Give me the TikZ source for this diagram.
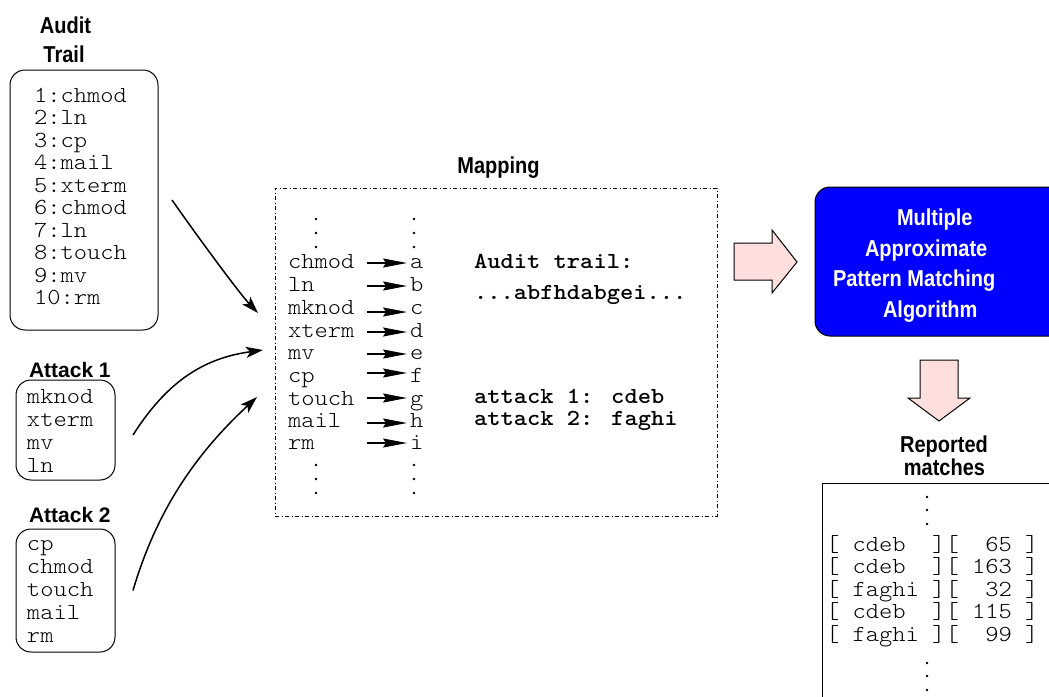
\documentclass[tikz,border=0pt]{standalone}
\usepackage{fontspec}
\newfontfamily\cour[Extension=.otf, FakeStretch=1.1, BoldFont=lmmonolt10-bold]{lmmonolt10-regular}
\newfontfamily\hvn[FakeStretch=0.87]{Liberation Sans}
\newfontfamily\hvw{Liberation Sans}
\usetikzlibrary{arrows.meta}
\definecolor{pinkfill}{RGB}{255,222,222}
\definecolor{algblue}{RGB}{0,0,255}
\begin{document}
\begin{tikzpicture}[x=1pt,y=-1pt,
  every node/.style={inner sep=0pt,outer sep=0pt},
  mono/.style={font=\cour\fontsize{23}{26}\selectfont, anchor=base west},
  monob/.style={font=\cour\bfseries\fontsize{23}{26}\selectfont, anchor=base west},
  titletext/.style={font=\hvn\bfseries\fontsize{23}{27}\selectfont, anchor=base},
  attacktitle/.style={font=\hvw\bfseries\fontsize{21}{25}\selectfont, anchor=base west},
  whitetext/.style={font=\hvn\bfseries\fontsize{23}{27}\selectfont, text=white, anchor=base west},
  vdot/.style={circle, fill=black, minimum size=2.6pt},
  roundbox/.style={draw, line width=1pt, rounded corners=15pt},
  curvearrow/.style={line width=1.5pt, -{Stealth[length=17pt,width=11pt,inset=4pt]}},
  maparrow/.style={line width=1.4pt, -{Stealth[length=24pt,width=9pt,inset=3pt]}},
  bigarrow/.style={draw, line width=1pt, fill=pinkfill, line join=miter},
]
\useasboundingbox (0,0) rectangle (1049,696);
\begin{scope}
\clip (0,0) rectangle (1049,696);

% ---------- Audit trail ----------
\node[titletext] (audittitleA) at (65.5,33) {Audit};
\node[titletext] (audittitleB) at (64,62) {Trail};
\node[roundbox, minimum width=148pt, minimum height=260pt] (auditbox) at (84,200) {};
\foreach \t [count=\i] in {1:chmod,2:ln,3:cp,4:mail,5:xterm,6:chmod,7:ln,8:touch,9:mv,10:rm}
  \node[mono] (au\i) at (34,{102+(\i-1)*22.55}) {\t};

% ---------- Attack 1 ----------
\node[attacktitle] (att1title) at (29,377) {Attack 1};
\node[roundbox, minimum width=99pt, minimum height=100pt] (att1box) at (65.5,430) {};
\foreach \t/\yb [count=\i] in {mknod/403,xterm/426,mv/449,ln/472}
  \node[mono] (aa\i) at (27,\yb) {\t};

% ---------- Attack 2 ----------
\node[attacktitle] (att2title) at (29,522) {Attack 2};
\node[roundbox, minimum width=99pt, minimum height=123pt] (att2box) at (65.5,590.5) {};
\foreach \t/\yb [count=\i] in {cp/550,chmod/573,touch/596,mail/619,rm/642}
  \node[mono] (ab\i) at (27,\yb) {\t};

% ---------- Mapping ----------
\node[titletext] (maptitle) at (498.5,173) {Mapping};
\node[draw, line width=0.8pt, dash pattern=on 4pt off 2.5pt on 1pt off 2.5pt,
      minimum width=442pt, minimum height=328pt] (mapbox) at (496,352) {};
\foreach \w/\l/\yb/\dy [count=\i] in {chmod/a/268/-5, ln/b/291/-5, mknod/c/314/-2,
    xterm/d/337/-5, mv/e/359/-5, cp/f/382/-9, touch/g/405/-7, mail/h/427/-4, rm/i/449/-6} {
  \node[mono] (mw\i) at (288,\yb) {\w};
  \node[mono] (ml\i) at (410,\yb) {\l};
  \draw[maparrow] ([shift={(-43,\dy)}]ml\i.base west) -- ([shift={(-3,\dy)}]ml\i.base west);
}
\foreach \yc [count=\i] in {219,233,247,465,479,493} {
  \node[vdot] (mdl\i) at (316,\yc) {};
  \node[vdot] (mdr\i) at (414,\yc) {};
}
\node[monob] (trailhead) at (474,268) {Audit trail:};
\node[monob] (trailseq) at (474,299) {...abfhdabgei...};
\node[monob] (attk1) at (474,403) {attack 1: cdeb};
\node[monob] (attk2) at (474,425) {attack 2: faghi};

% ---------- curved arrows ----------
\coordinate (auditout) at ([xshift=14]auditbox.east);
\coordinate (att1out) at ([shift={(18,5)}]att1box.east);
\coordinate (att2out) at ([shift={(18,0)}]att2box.east);
\coordinate (mapin0) at ([shift={(-17,-39)}]mapbox.west);
\coordinate (mapin1) at ([shift={(-12,-2)}]mapbox.west);
\coordinate (mapin2) at ([shift={(-18,45)}]mapbox.west);
\draw[curvearrow] (auditout) .. controls +(28,40) and +(-18,-19) .. (mapin0);
\draw[curvearrow] (att1out) .. controls +(35,-55) and +(-58,8) .. (mapin1);
\draw[curvearrow] (att2out) .. controls +(25,-85) and +(-57,53) .. (mapin2);

% ---------- big arrows ----------
\draw[bigarrow] (734,243) -- (772,243) -- (772,230) -- (797,262) -- (772,293) -- (772,280) -- (734,280) -- cycle;
\draw[bigarrow] (920,360) -- (958,360) -- (958,398) -- (970,398) -- (939,421) -- (908,398) -- (920,398) -- cycle;

% ---------- algorithm ----------
\node[draw, line width=1pt, fill=algblue, rounded corners=15pt,
      minimum width=260pt, minimum height=149pt] (algbox) at (945,261.5) {};
\node[whitetext] (algA) at (897,225) {Multiple};
\node[whitetext] (algB) at (865,256) {Approximate};
\node[whitetext] (algC) at (833,286) {Pattern Matching};
\node[whitetext] (algD) at (883,317) {Algorithm};

% ---------- reported matches ----------
\node[titletext] (reptitleA) at (944,452) {Reported};
\node[titletext] (reptitleB) at (944.5,475) {matches};
\node[draw, line width=1pt, minimum width=253pt, minimum height=237pt] (repbox) at (948.5,601.5) {};
\foreach \yc [count=\i] in {497,510,524,663,676,690}
  \node[vdot] (rd\i) at (927,\yc) {};
\foreach \t/\yb [count=\i] in {{[~cdeb~~][~~65~]}/551, {[~cdeb~~][~163~]}/573.5,
    {[~faghi~][~~32~]}/596, {[~cdeb~~][~115~]}/618.5, {[~faghi~][~~99~]}/641}
  \node[mono] (rr\i) at (826,\yb) {\t};
\end{scope}
\end{tikzpicture}
\end{document}
